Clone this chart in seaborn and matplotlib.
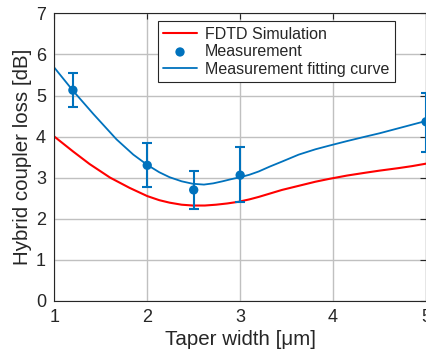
import numpy as np
import pandas as pd
import matplotlib
matplotlib.use("Agg")
import matplotlib.pyplot as plt
import seaborn as sns

# simulated loss (FDTD)
sim_width = [1.0, 1.2, 1.38, 1.6, 1.81, 2.0, 2.13, 2.24, 2.37, 2.49, 2.62, 2.74, 2.86, 2.98,
             3.1, 3.2, 3.45, 3.81, 3.96, 4.15, 4.35, 4.5, 4.7, 4.85, 5.0]
sim_loss = [4.00, 3.64, 3.33, 3.00, 2.75, 2.55, 2.45, 2.39, 2.34, 2.32, 2.32, 2.34, 2.37, 2.41,
            2.47, 2.53, 2.70, 2.90, 2.97, 3.05, 3.12, 3.17, 3.23, 3.28, 3.34]

# measured points with error bars
meas_width = [1.2, 2.0, 2.5, 3.0, 5.0]
meas_loss = [5.13, 3.30, 2.70, 3.06, 4.36]
meas_low = [4.71, 2.77, 2.23, 2.41, 3.62]
meas_high = [5.55, 3.85, 3.15, 3.74, 5.07]

# fitting curve through measurement
fit_width = [1.0, 1.2, 1.42, 1.67, 1.85, 2.0, 2.13, 2.24, 2.37, 2.49, 2.61, 2.71, 2.81, 2.9,
             3.0, 3.1, 3.2, 3.32, 3.45, 3.63, 3.81, 3.96, 4.15, 4.35, 4.5, 4.7, 4.85, 5.0]
fit_loss = [5.68, 5.12, 4.55, 3.93, 3.56, 3.31, 3.13, 3.01, 2.91, 2.85, 2.83, 2.86, 2.91, 2.96,
            3.01, 3.07, 3.15, 3.27, 3.39, 3.56, 3.69, 3.78, 3.89, 4.00, 4.08, 4.20, 4.29, 4.38]

sns.set_style("whitegrid")
plt.rcParams['font.family'] = ['Liberation Sans', 'DejaVu Sans']

sim_df = pd.DataFrame({'w': sim_width, 'loss': sim_loss})
fit_df = pd.DataFrame({'w': fit_width, 'loss': fit_loss})
meas_df = pd.DataFrame({'w': meas_width, 'loss': meas_loss})

fig = plt.figure(figsize=(4.27, 3.53), dpi=100)
ax = fig.add_axes([0.1272, 0.148, 0.8705, 0.814])

sns.lineplot(data=sim_df, x='w', y='loss', ax=ax, color='#ff0000', lw=1.5,
             label='FDTD Simulation')
yerr = [np.array(meas_loss) - np.array(meas_low), np.array(meas_high) - np.array(meas_loss)]
ax.errorbar(meas_width, meas_loss, yerr=yerr, fmt='none', ecolor='#0072bd',
            elinewidth=1.5, capsize=3.5, capthick=1.5, zorder=4)
sns.scatterplot(data=meas_df, x='w', y='loss', ax=ax, color='#0072bd', s=45,
                edgecolor='none', label='Measurement', zorder=5, clip_on=False)
sns.lineplot(data=fit_df, x='w', y='loss', ax=ax, color='#0072bd', lw=1.3,
             label='Measurement fitting curve')

ax.set_xlim(1, 5)
ax.set_ylim(0, 7)
ax.set_xticks([1, 2, 3, 4, 5])
ax.set_yticks(range(0, 8))
ax.grid(True, color='#c0c0c0', lw=1.0)
for s in ax.spines.values():
    s.set_color('#262626')
    s.set_linewidth(0.8)
ax.tick_params(direction='in', length=4, width=0.8, labelsize=13, colors='#262626',
               top=True, right=True, pad=6)
ax.set_xlabel('Taper width [μm]', fontsize=14.8, color='#262626', labelpad=3)
ax.set_ylabel('Hybrid coupler loss [dB]', fontsize=14.8, color='#262626', labelpad=3)

handles, labels = ax.get_legend_handles_labels()
order = [labels.index(l) for l in ['FDTD Simulation', 'Measurement', 'Measurement fitting curve']]
leg = ax.legend([handles[i] for i in order], [labels[i] for i in order],
                loc='upper left', bbox_to_anchor=(0.278, 0.973), borderaxespad=0,
                fontsize=11.5, frameon=True, fancybox=False, framealpha=1,
                edgecolor='#262626', handlelength=2.1, labelspacing=0.15,
                borderpad=0.35, handletextpad=0.5)
leg.get_frame().set_linewidth(0.8)

fig.savefig('out.png', dpi=100)
